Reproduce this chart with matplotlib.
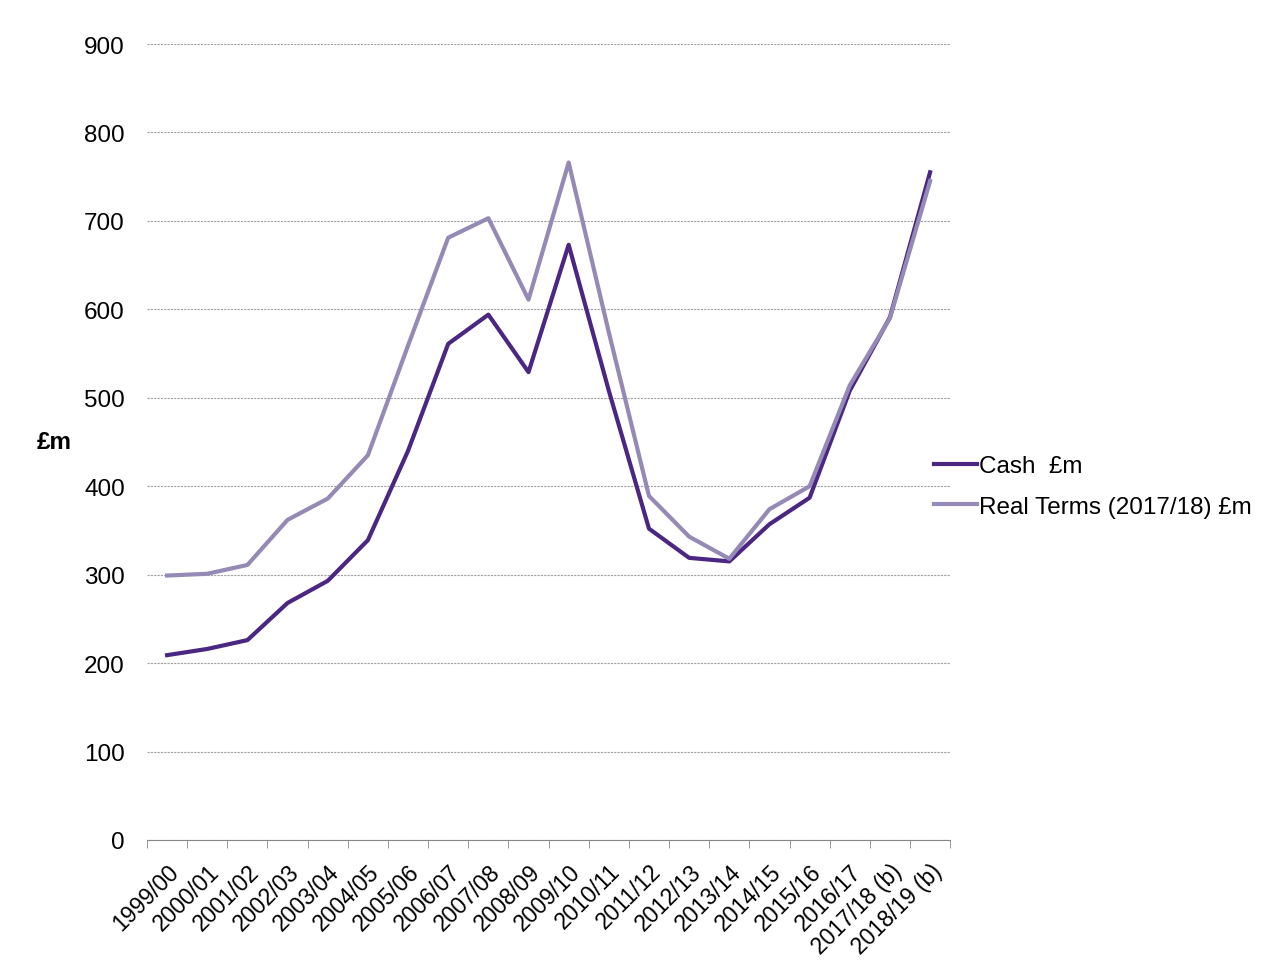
import numpy as np
import matplotlib.pyplot as plt

plt.rcParams['font.family'] = ['Liberation Sans', 'DejaVu Sans']

years = ['1999/00', '2000/01', '2001/02', '2002/03', '2003/04', '2004/05',
         '2005/06', '2006/07', '2007/08', '2008/09', '2009/10', '2010/11',
         '2011/12', '2012/13', '2013/14', '2014/15', '2015/16', '2016/17',
         '2017/18 (b)', '2018/19 (b)']
cash = [209, 216, 226, 268, 293, 339, 440, 561, 594, 529, 673, 508,
        352, 319, 315, 357, 387, 508, 591, 755]
real = [299, 301, 311, 362, 386, 435, 559, 681, 703, 611, 766, 574,
        389, 343, 318, 374, 400, 514, 590, 745]

fig = plt.figure(figsize=(12.84, 9.70), dpi=100)
ax = fig.add_axes([0.1145, 0.133, 0.6255, 0.8206])

x = np.arange(len(years))
ax.plot(x, cash, color='#4b2683', lw=3, label='Cash  £m')
ax.plot(x, real, color='#9589b5', lw=3, label='Real Terms (2017/18) £m')

ax.set_xlim(-0.5, len(years) - 0.5)
ax.set_ylim(0, 900)
ax.set_yticks(range(0, 901, 100))
ax.yaxis.grid(True, color='#a0a0a0', ls=(0, (2, 1)), lw=0.8)
ax.set_axisbelow(True)

ax.set_xticks(x)
ax.set_xticklabels(years, rotation=45, ha='right', va='top', rotation_mode='anchor')
ax.set_xticks(np.arange(-0.5, len(years)), minor=True)
ax.tick_params(axis='x', which='major', length=0, pad=14, labelsize=16.5)
ax.tick_params(axis='x', which='minor', length=6, color='#888888')
ax.tick_params(axis='y', length=0, labelsize=17.5, pad=16)

for s in ['top', 'right', 'left']:
    ax.spines[s].set_visible(False)
ax.spines['bottom'].set_color('#888888')

ax.set_ylabel('£m', fontsize=17.5, fontweight='bold', rotation=0)
ax.yaxis.set_label_coords(-0.115, 0.486)

ax.legend(loc='center left', bbox_to_anchor=(0.953, 0.444), frameon=False,
          fontsize=17.5, handlelength=1.75, handletextpad=0.1, labelspacing=0.75)

fig.savefig('out.png', dpi=100)
